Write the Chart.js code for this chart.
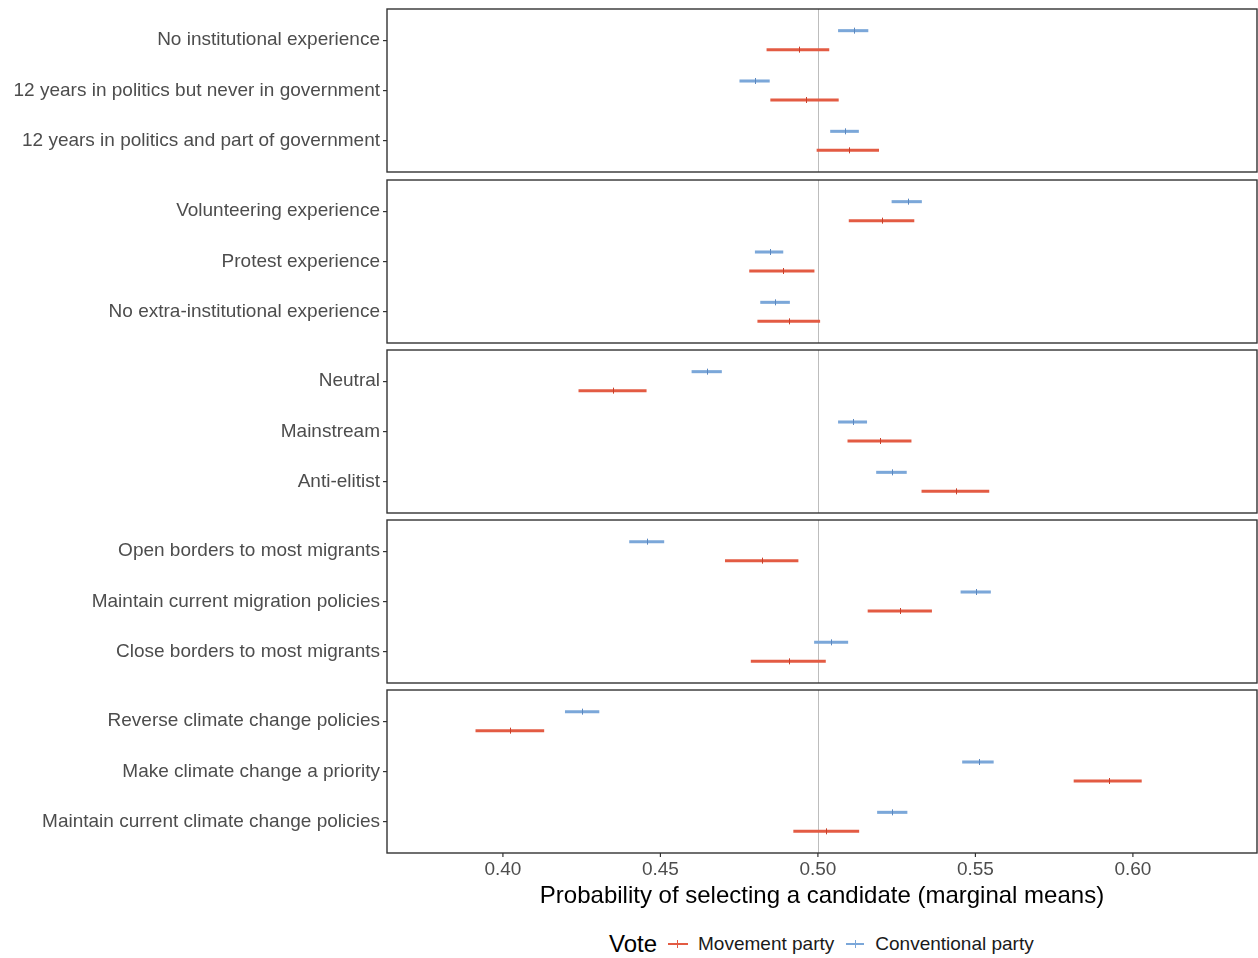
<!DOCTYPE html>
<html>
<head>
<meta charset="utf-8">
<script src="https://cdn.jsdelivr.net/npm/chart.js@4.4.1/dist/chart.umd.min.js"></script>
<style>
  body { margin: 0; background: #fff; font-family: 'Liberation Sans', Arial, sans-serif; }
  #wrap { position: relative; width: 1258px; height: 958px; }
  .panel { position: absolute; left: 0; width: 1258px; }
  .legend { position: absolute; top: 930px; left: 609px; height: 28px; display: flex; align-items: center; white-space: nowrap; color: #1a1a1a; }
  .legend .title { font-size: 24px; color: #000; margin-right: 11px; }
  .legend .item { font-size: 19px; }
  .key { position: relative; display: inline-block; width: 20px; height: 2px; margin-right: 10px; }
  .key::after { content: ''; position: absolute; left: 9px; top: -3px; width: 1px; height: 8px; background: inherit; }
  .key.red { background: #e35b43; }
  .key.blue { background: #7ba7d9; margin-left: 12px; width: 18px; margin-right: 11px; }
</style>
</head>
<body>
<div id="wrap">
  <div class="legend">
    <span class="title">Vote</span>
    <span class="key red"></span><span class="item">Movement party</span>
    <span class="key blue"></span><span class="item">Conventional party</span>
  </div>
</div>
<script>
const panelLabels = [
  ['No institutional experience', '12 years in politics but never in government', '12 years in politics and part of government'],
  ['Volunteering experience', 'Protest experience', 'No extra-institutional experience'],
  ['Neutral', 'Mainstream', 'Anti-elitist'],
  ['Open borders to most migrants', 'Maintain current migration policies', 'Close borders to most migrants'],
  ['Reverse climate change policies', 'Make climate change a priority', 'Maintain current climate change policies']
];

const movementMean = [0.4940, 0.4963, 0.5098, 0.5202, 0.4888, 0.4908, 0.4348, 0.5197, 0.5439, 0.4821, 0.5261, 0.4908, 0.4021, 0.5924, 0.5027];
const movementLow  = [0.4837, 0.4849, 0.4996, 0.5098, 0.4782, 0.4808, 0.4240, 0.5094, 0.5329, 0.4705, 0.5158, 0.4787, 0.3913, 0.5812, 0.4922];
const movementHigh = [0.5036, 0.5066, 0.5194, 0.5306, 0.4989, 0.5007, 0.4456, 0.5297, 0.5544, 0.4938, 0.5362, 0.5025, 0.4131, 0.6028, 0.5131];

const conventionalMean = [0.5114, 0.4800, 0.5085, 0.5286, 0.4847, 0.4865, 0.4647, 0.5112, 0.5234, 0.4458, 0.5501, 0.5043, 0.4252, 0.5510, 0.5236];
const conventionalLow  = [0.5064, 0.4751, 0.5039, 0.5234, 0.4800, 0.4817, 0.4599, 0.5064, 0.5185, 0.4401, 0.5453, 0.4988, 0.4197, 0.5458, 0.5188];
const conventionalHigh = [0.5160, 0.4847, 0.5130, 0.5330, 0.4890, 0.4911, 0.4695, 0.5156, 0.5282, 0.4512, 0.5549, 0.5096, 0.4306, 0.5558, 0.5284];

const xTicks = [0.40, 0.45, 0.50, 0.55, 0.60];
const xMin = 0.3632, xMax = 0.6394;
const refValue = 0.5;
const xTitle = 'Probability of selecting a candidate (marginal means)';

const RED = '#e35b43', BLUE = '#7ba7d9';
const boxTops = [9, 180, 350, 520, 690];
const inset = 6;       // ggplot's extra expansion beyond the category offset
const areaH = 151;

const panelFrame = {
  id: 'panelFrame',
  beforeDatasetsDraw(chart) {
    const { ctx, chartArea: a, scales: { x } } = chart;
    const rx = Math.round(x.getPixelForValue(refValue)) + 0.5;
    ctx.save();
    ctx.strokeStyle = '#bdbdbd';
    ctx.lineWidth = 1;
    ctx.beginPath();
    ctx.moveTo(rx, a.top - inset);
    ctx.lineTo(rx, a.bottom + inset);
    ctx.stroke();
    ctx.restore();
  },
  afterDatasetsDraw(chart, args, opts) {
    const { ctx, chartArea: a, scales: { x } } = chart;
    ctx.save();
    chart.data.datasets.forEach((ds, di) => {
      chart.getDatasetMeta(di).data.forEach((bar, i) => {
        const px = Math.round(x.getPixelForValue(ds.means[i])) + 0.5;
        ctx.strokeStyle = ds.tickColor;
        ctx.lineWidth = 1;
        ctx.beginPath();
        ctx.moveTo(px, bar.y - 3);
        ctx.lineTo(px, bar.y + 3);
        ctx.stroke();
      });
    });
    ctx.strokeStyle = '#333';
    ctx.lineWidth = 1.4;
    ctx.strokeRect(a.left, a.top - inset, a.right - a.left, a.bottom - a.top + 2 * inset);
    if (opts.xTickMarks) {
      ctx.lineWidth = 1.2;
      xTicks.forEach(v => {
        const px = x.getPixelForValue(v);
        ctx.beginPath();
        ctx.moveTo(px, a.bottom + inset);
        ctx.lineTo(px, a.bottom + inset + 4);
        ctx.stroke();
      });
    }
    ctx.restore();
  }
};

const wrap = document.getElementById('wrap');

panelLabels.forEach((labels, p) => {
  const last = p === panelLabels.length - 1;
  const s = p * 3;
  const div = document.createElement('div');
  div.className = 'panel';
  div.style.top = (boxTops[p] + inset - 8) + 'px';
  div.style.height = (8 + areaH + (last ? 64 : 8)) + 'px';
  const canvas = document.createElement('canvas');
  div.appendChild(canvas);
  wrap.appendChild(div);

  const conv = conventionalLow.slice(s, s + 3).map((v, i) => [v, conventionalHigh[s + i]]);
  const mov = movementLow.slice(s, s + 3).map((v, i) => [v, movementHigh[s + i]]);

  new Chart(canvas, {
    type: 'bar',
    data: {
      labels,
      datasets: [
        { label: 'Conventional party', data: conv, means: conventionalMean.slice(s, s + 3), backgroundColor: BLUE, tickColor: '#5b88c0', borderWidth: 0 },
        { label: 'Movement party', data: mov, means: movementMean.slice(s, s + 3), backgroundColor: RED, tickColor: '#c8402a', borderWidth: 0 }
      ]
    },
    options: {
      indexAxis: 'y',
      responsive: true,
      maintainAspectRatio: false,
      animation: false,
      categoryPercentage: 0.755,
      barPercentage: 0.16,
      layout: { padding: { top: 8, bottom: last ? 0 : 8, left: 0, right: 1 } },
      plugins: {
        legend: { display: false },
        tooltip: { enabled: false },
        panelFrame: { xTickMarks: last }
      },
      scales: {
        y: {
          type: 'category',
          afterFit: sc => { sc.width = 387; sc.paddingTop = 0; sc.paddingBottom = 0; },
          border: { display: false },
          grid: { display: true, offset: false, drawOnChartArea: false, drawTicks: true, tickLength: 4, tickColor: '#333', lineWidth: 1.2 },
          ticks: { font: { family: 'Liberation Sans', size: 19 }, color: '#4d4d4d', padding: 3 }
        },
        x: {
          type: 'linear',
          display: last,
          min: xMin,
          max: xMax,
          afterBuildTicks: sc => { sc.ticks = xTicks.map(v => ({ value: v })); },
          afterFit: sc => { if (last) { sc.height = 64; sc.paddingLeft = 0; sc.paddingRight = 0; } },
          border: { display: false },
          grid: { display: false },
          ticks: { callback: v => v.toFixed(2), font: { family: 'Liberation Sans', size: 19 }, color: '#4d4d4d', padding: 3, maxRotation: 0 },
          title: { display: true, text: xTitle, font: { family: 'Liberation Sans', size: 24 }, color: '#000', padding: { top: 0, bottom: 0 } }
        }
      }
    },
    plugins: [panelFrame]
  });
});
</script>
</body>
</html>
